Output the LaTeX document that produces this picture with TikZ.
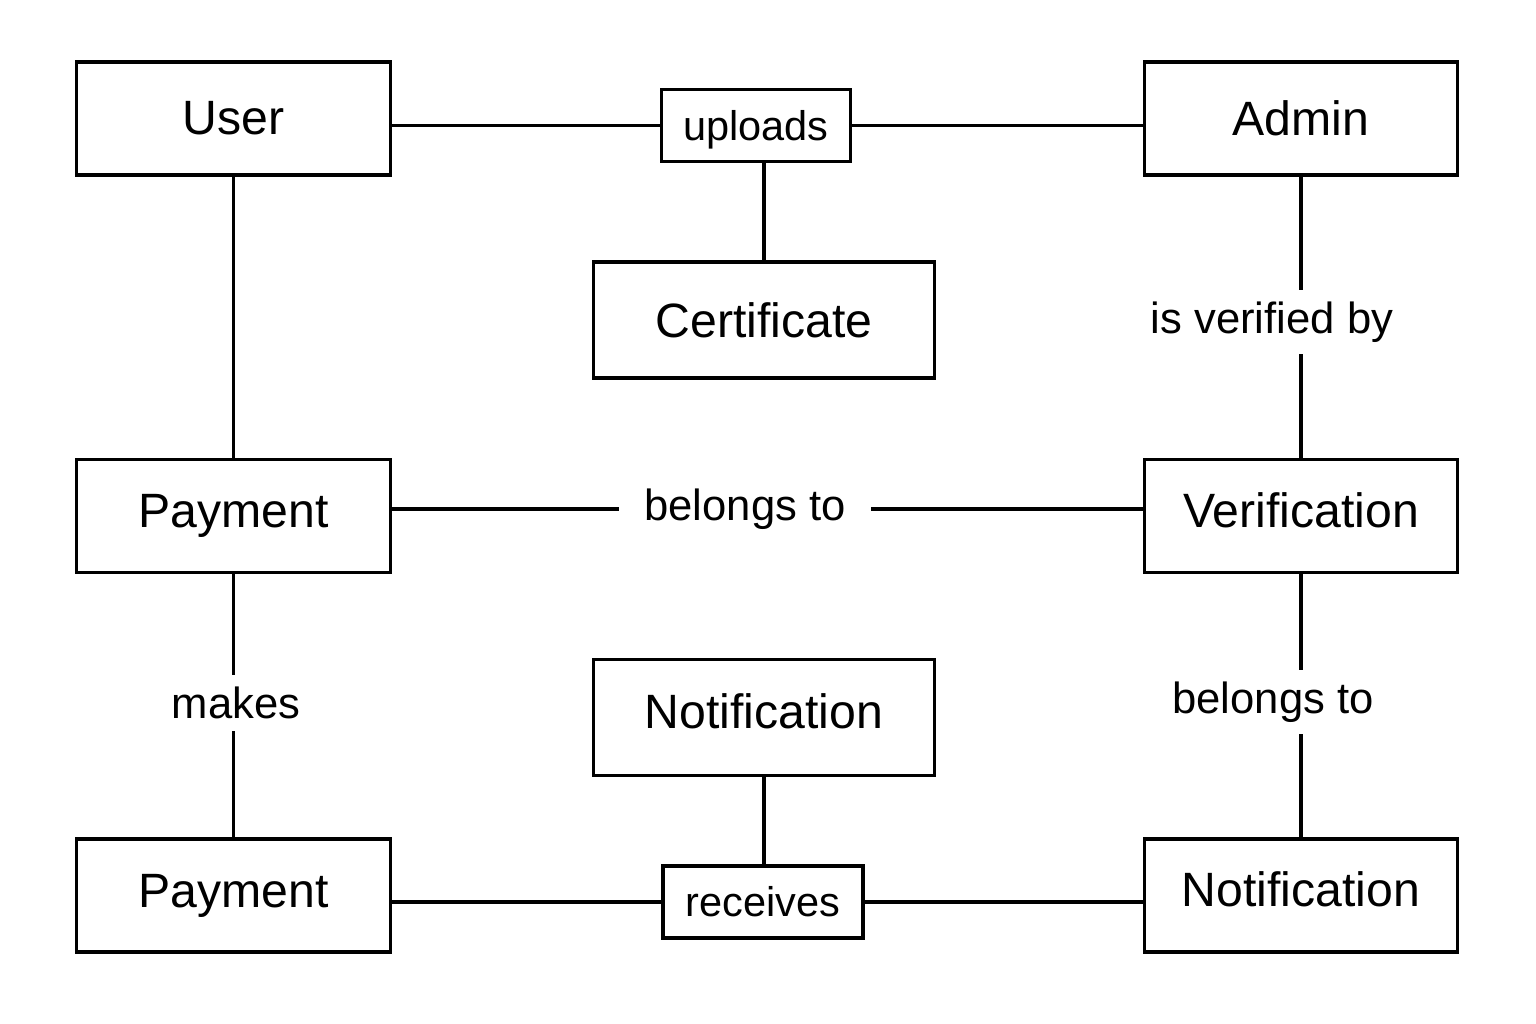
\documentclass[tikz,border=0pt]{standalone}
\usepackage{fontspec}
\setmainfont{Liberation Sans}
\usepackage{tikz}

\tikzset{
  ent/.style={draw, line width=0.9pt, minimum width=3.13cm, minimum height=1.13cm, font=\fontsize{13.7}{16}\selectfont},
  wide/.style={ent, minimum width=3.4cm, minimum height=1.16cm},
  raised/.style={text depth=0.12cm},
  rel/.style={draw, line width=0.9pt, minimum height=0.72cm, font=\fontsize{11.8}{14}\selectfont},
  lbl/.style={fill=white, inner xsep=0.25cm, inner ysep=0.12cm, font=\fontsize{12.4}{14}\selectfont},
  conn/.style={line width=0.9pt}
}

\begin{document}
\begin{tikzpicture}[x=0.01cm, y=-0.01cm]
\useasboundingbox (0,0) rectangle (1536,1024);
\node [ent] (user) at (233.5,118.5) {User};
\node [ent] (admin) at (1301,118.5) {Admin};
\node [rel, minimum width=1.89cm, text depth=0pt] (uploads) at (756,125.5) {uploads};
\node [wide] (cert) at (764,320) {Certificate};
\node [ent] (pay) at (233.5,516) {Payment};
\node [ent, raised] (verif) at (1301,516) {Verification};
\node [wide, raised] (notifc) at (764,717.5) {Notification};
\node [ent] (paylow) at (233.5,895.5) {Payment};
\node [rel, minimum width=2.0cm] (receives) at (763,902) {receives};
\node [ent, raised] (notifr) at (1301,895.5) {Notification};
\draw [conn] (user.east |- uploads) -- (uploads) -- (uploads -| admin.west);
\draw [conn] (cert |- uploads.south) -- (cert);
\draw [conn] (user) -- (pay);
\draw [conn] (admin) -- (verif);
\draw [conn] (pay.east |- 0,509) -- (verif.west |- 0,509);
\draw [conn] (pay) -- (paylow);
\draw [conn] (verif) -- (notifr);
\draw [conn] (notifc) -- (notifc |- receives.north);
\draw [conn] (paylow.east |- receives) -- (receives) -- (receives -| notifr.west);
\node [lbl] (verifiedby) at (1272,322) {is verified by};
\node [lbl] (belongsmid) at (745,509) {belongs to};
\node [lbl] (makes) at (236,703) {makes};
\node [lbl] (belongsright) at (1273,702) {belongs to};
\end{tikzpicture}
\end{document}
